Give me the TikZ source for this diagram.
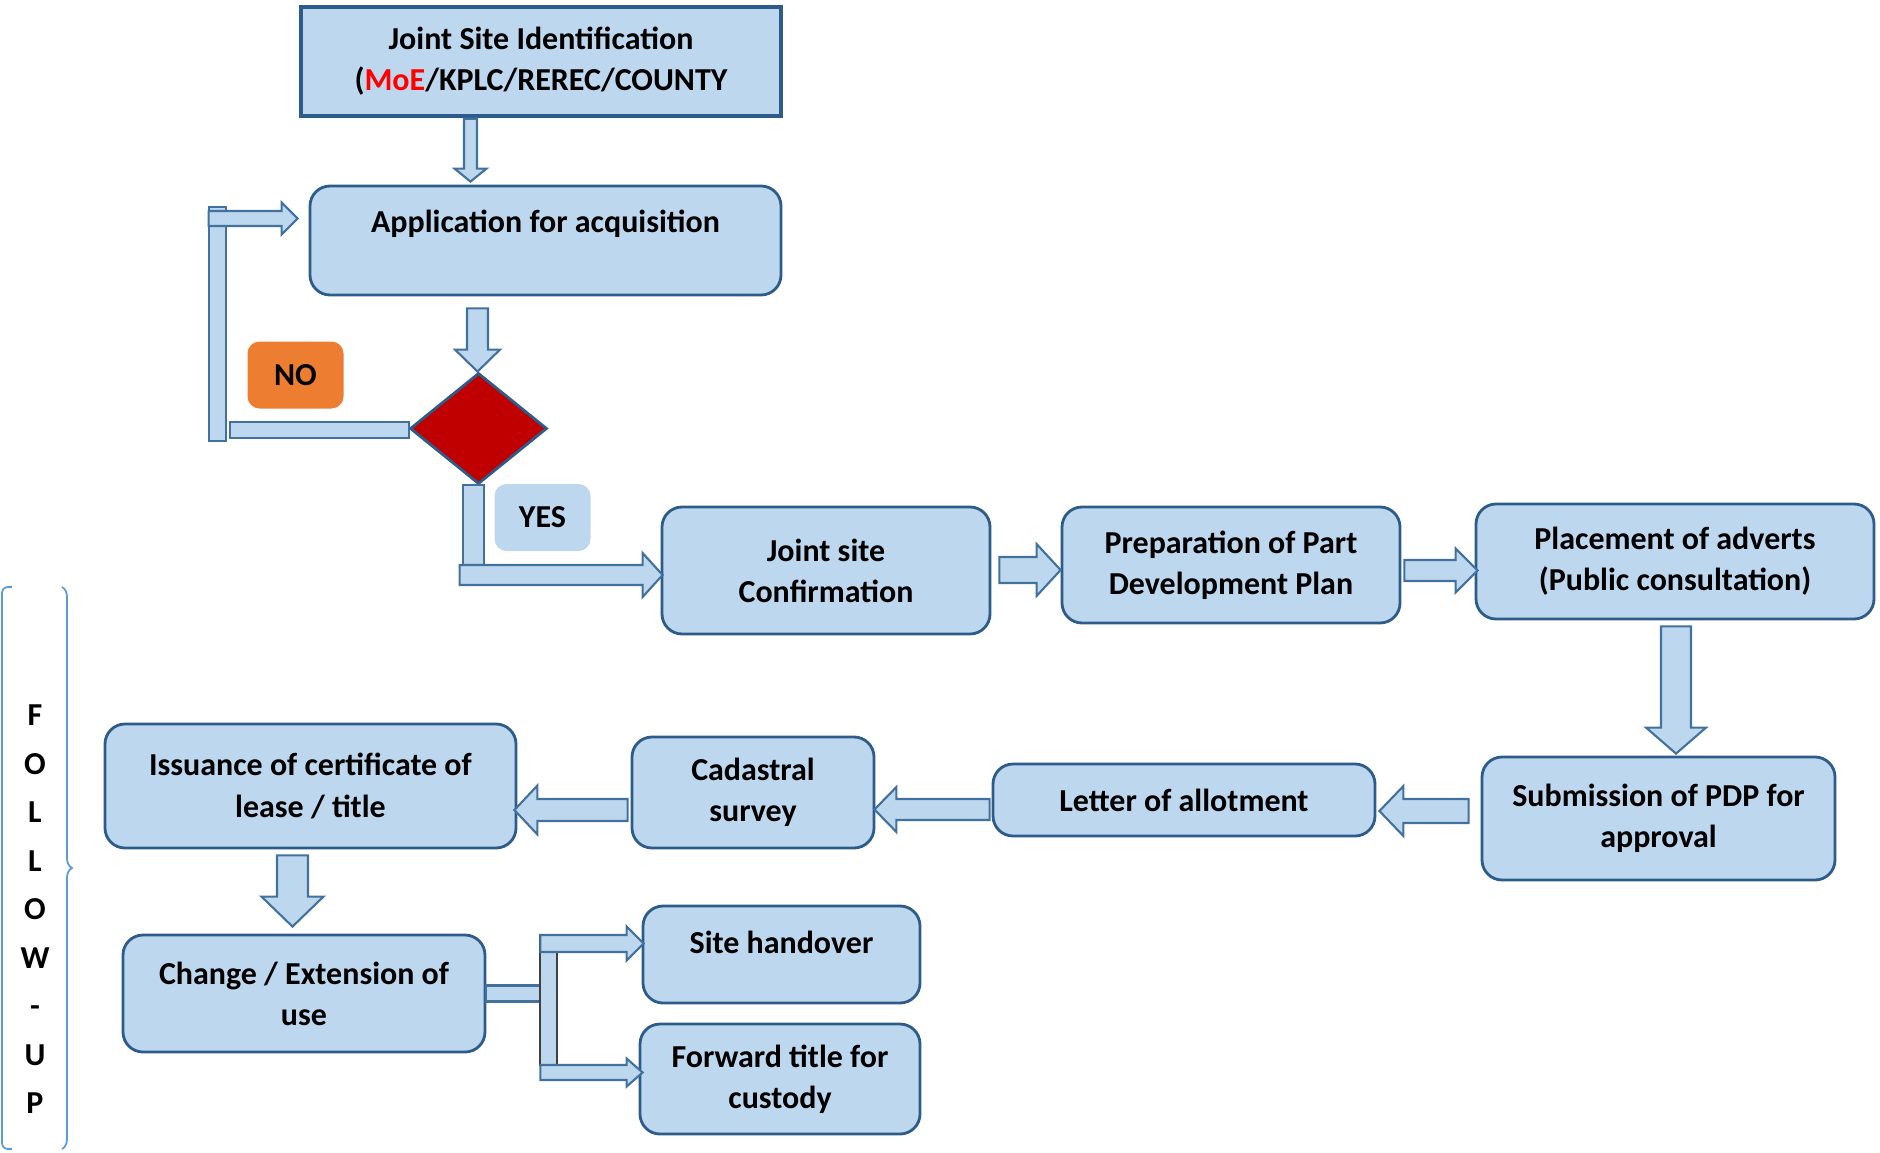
\documentclass[tikz,border=0pt]{standalone}
\usepackage{fontspec}
\setmainfont{Carlito}
\usetikzlibrary{calc,shapes.geometric,decorations.pathreplacing}

\definecolor{boxfill}{HTML}{BDD7EE}
\definecolor{boxline}{HTML}{2E5C8A}
\definecolor{arrowline}{HTML}{41719C}
\definecolor{diared}{HTML}{C00000}
\definecolor{noorange}{HTML}{ED7D31}
\definecolor{bracecol}{HTML}{5B9BD5}

\newcommand{\harrow}[5]{%
	\draw[blockarrow] let \p1=(#1), \p2=(#2), \n1={sign(\x2-\x1)} in
		(\x1,\y1+#3) -- (\x2-\n1*#5,\y1+#3) -- (\x2-\n1*#5,\y1+#4) -- (\x2,\y1)
		-- (\x2-\n1*#5,\y1-#4) -- (\x2-\n1*#5,\y1-#3) -- (\x1,\y1-#3) -- cycle;}
\newcommand{\varrow}[5]{%
	\draw[blockarrow] let \p1=(#1), \p2=(#2), \n1={sign(\y2-\y1)} in
		(\x1+#3,\y1) -- (\x1+#3,\y2-\n1*#5) -- (\x1+#4,\y2-\n1*#5) -- (\x1,\y2)
		-- (\x1-#4,\y2-\n1*#5) -- (\x1-#3,\y2-\n1*#5) -- (\x1-#3,\y1) -- cycle;}

\tikzset{
	procbox/.style={draw=boxline, line width=0.8pt, fill=boxfill, rounded corners=0.2cm, align=center, inner sep=0pt, font=\bfseries\fontsize{9.1}{11.7}\selectfont},
	answer/.style={fill=#1, rounded corners=0.12cm, inner sep=0pt, minimum width=0.96cm, minimum height=0.67cm, font=\bfseries\fontsize{9.1}{11.7}\selectfont},
	blockarrow/.style={draw=arrowline, fill=boxfill, line width=0.6pt}
}

\begin{document}
\begin{tikzpicture}
	\useasboundingbox (0,0) rectangle (18.8,-11.52);

	\node[procbox, sharp corners, line width=1pt, minimum width=4.8cm, minimum height=1.09cm] (ident) at (5.41,-0.615) {Joint Site Identification\\(\textcolor{red}{MoE}/KPLC/REREC/COUNTY};
	\node[procbox, minimum width=4.71cm, text height=0.46cm, text depth=0.63cm] (appl) at (5.455,-2.405) {Application for acquisition};
	\node[diamond, draw=boxline, line width=0.8pt, fill=diared, minimum width=1.37cm, minimum height=1.11cm, inner sep=0pt] (dia) at (4.785,-4.285) {};
	\node[answer=noorange] (no) at (2.955,-3.75) {NO};
	\node[answer=boxfill] (yes) at (5.425,-5.175) {YES};

	\node[procbox, minimum width=3.28cm, minimum height=1.27cm] (conf) at (8.26,-5.705) {Joint site\\Confirmation};
	\node[procbox, minimum width=3.38cm, minimum height=1.16cm] (prep) at (12.31,-5.65) {Preparation of Part\\Development Plan};
	\node[procbox, minimum width=3.98cm, minimum height=1.15cm] (advert) at (16.75,-5.615) {Placement of adverts\\(Public consultation)};
	\node[procbox, minimum width=3.53cm, minimum height=1.23cm] (submit) at (16.585,-8.185) {Submission of PDP for\\approval};
	\node[procbox, minimum width=3.82cm, minimum height=0.72cm] (letter) at (11.84,-8.0) {Letter of allotment};
	\node[procbox, minimum width=2.42cm, minimum height=1.11cm] (cad) at (7.53,-7.925) {Cadastral\\survey};
	\node[procbox, minimum width=4.11cm, minimum height=1.24cm] (issue) at (3.105,-7.86) {Issuance of certificate of\\lease / title};
	\node[procbox, minimum width=3.62cm, minimum height=1.17cm] (change) at (3.04,-9.935) {Change / Extension of\\use};
	\node[procbox, minimum width=2.77cm, text height=0.47cm, text depth=0.50cm] (hand) at (7.815,-9.545) {Site handover};
	\node[procbox, minimum width=2.80cm, minimum height=1.10cm] (cust) at (7.80,-10.79) {Forward title for\\custody};

	\varrow{$(ident.south)+(-0.705,-0.01)$}{$(appl.north)+(0,0.03)$}{0.065cm}{0.16cm}{0.13cm}
	\varrow{$(appl.south)+(-0.68,-0.12)$}{dia.north}{0.105cm}{0.225cm}{0.22cm}

	\draw[blockarrow] ($(dia.west)+(0,0.065)$) rectangle ($(dia.west)+(-1.79,-0.095)$);
	\draw[blockarrow] ($(dia.west)+(-2.0,-0.125)$) rectangle ($(appl.west)+(-0.83,0.335)$);
	\harrow{$(appl.west)+(-1.0,0.22)$}{$(appl.west)+(-0.11,0)$}{0.075cm}{0.16cm}{0.16cm}

	\draw[blockarrow] ($(dia.south)+(-0.155,0)$) rectangle ($(dia.south)+(0.055,-0.81)$);
	\harrow{$(conf.west)+(-2.01,-0.045)$}{$(conf.west)+(0.02,0)$}{0.10cm}{0.22cm}{0.20cm}

	\harrow{$(conf.east)+(0.08,0.005)$}{prep.west}{0.13cm}{0.26cm}{0.24cm}
	\harrow{$(prep.east)+(0.03,-0.055)$}{$(advert.west)+(0.03,0)$}{0.105cm}{0.22cm}{0.22cm}
	\varrow{$(advert.south)+(0.01,-0.06)$}{$(submit.north)+(0,0.02)$}{0.15cm}{0.30cm}{0.26cm}
	\harrow{$(submit.west)+(-0.12,0.075)$}{$(letter.east)+(0.03,0)$}{0.12cm}{0.25cm}{0.24cm}
	\harrow{$(letter.west)+(-0.02,-0.095)$}{$(cad.east)+(-0.01,0)$}{0.105cm}{0.225cm}{0.22cm}
	\harrow{$(cad.west)+(-0.03,-0.175)$}{$(issue.east)+(-0.03,0)$}{0.11cm}{0.245cm}{0.23cm}
	\varrow{$(issue.south)+(-0.18,-0.06)$}{$(change.north)+(0,0.07)$}{0.155cm}{0.31cm}{0.30cm}

	\draw[blockarrow] ($(change.east)+(0,0.08)$) rectangle ($(change.east)+(0.54,-0.08)$);
	\draw[blockarrow, draw=darkgray] ($(change.east)+(0.54,0.585)$) rectangle ($(change.east)+(0.71,-0.715)$);
	\harrow{$(change.east)+(0.54,0.50)$}{$(hand.west)+(0.02,0)$}{0.085cm}{0.17cm}{0.17cm}
	\harrow{$(change.east)+(0.54,-0.79)$}{$(cust.west)+(0.04,0)$}{0.075cm}{0.14cm}{0.16cm}

	\draw[bracecol, line width=0.5pt, rounded corners=0.06cm] (0.12,-5.87) -| (0.02,-11.49) -- (0.12,-11.49);
	\draw[bracecol, line width=0.5pt, decorate, decoration={brace, amplitude=0.1cm}] (0.62,-5.87) -- (0.62,-11.49);
	\node[font=\bfseries\fontsize{9.1}{13.8}\selectfont, align=center, inner sep=0pt] (follow) at (0.35,-9.095) {F\\O\\L\\L\\O\\W\\-\\U\\P};
\end{tikzpicture}
\end{document}
